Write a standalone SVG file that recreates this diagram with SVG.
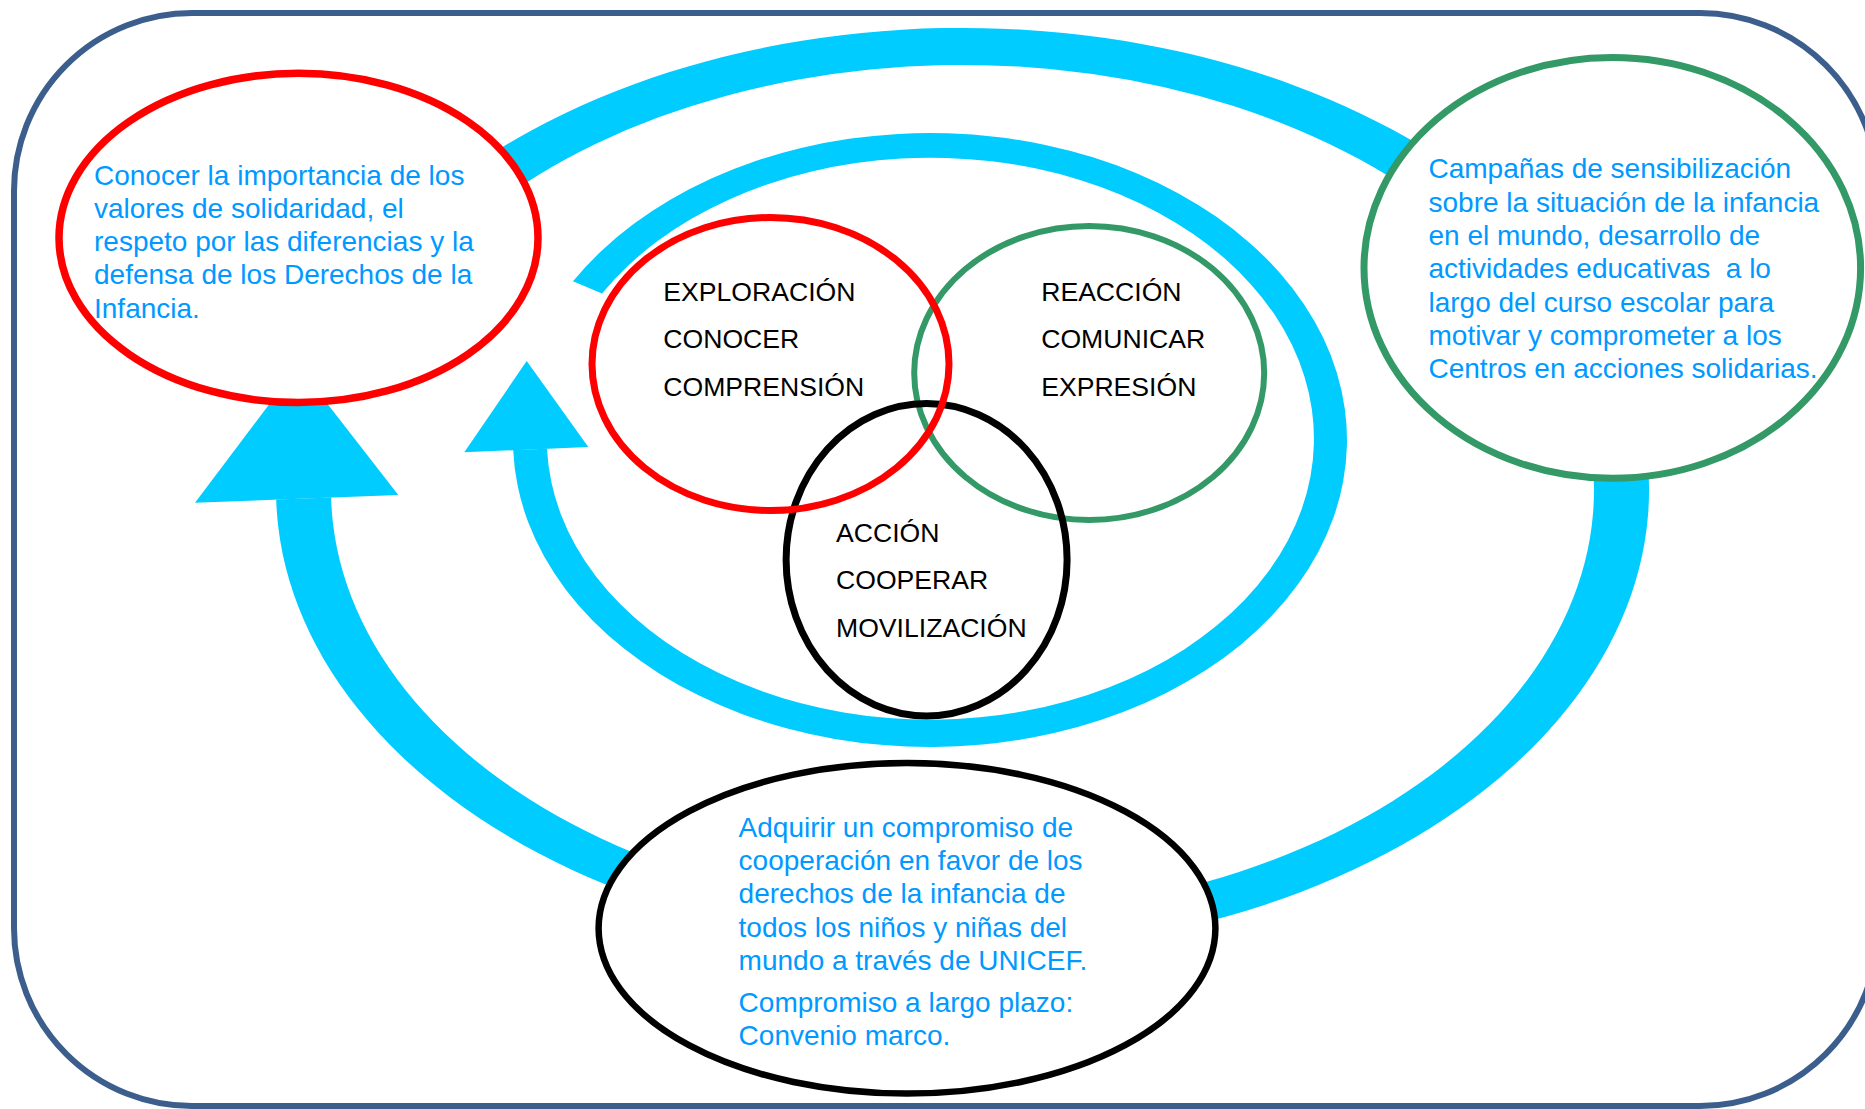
<svg xmlns="http://www.w3.org/2000/svg" width="1865" height="1109" viewBox="0 0 1865 1109">
<defs>
<style>
.frame{fill:#fff;stroke:#3B5E8C;stroke-width:6}
.flow{fill:#00CCFF}
.node{fill:#fff}
.venn{fill:none}
.red{stroke:#FF0000;stroke-width:7.5}
.green{stroke:#339966;stroke-width:7}
.black{stroke:#000;stroke-width:6.5}
.lbl{font-family:"Liberation Sans",Arial,sans-serif;font-size:28px;fill:#0099FF}
.vl{font-family:"Liberation Sans",Arial,sans-serif;font-size:26.6px;fill:#000}
</style>
</defs>
<rect width="1865" height="1109" fill="#fff"/>
<rect class="frame" x="14" y="13" width="1864" height="1093" rx="178"/>

<g id="connectors">
  <path class="flow" d="M276.2,499.6 A686.5,462 0 1 0 395,230 L440.4,250.8 A631.5,425 0 1 1 331.1,497.55 Z"/>
  <polygon class="flow" points="298,366 195,502.7 398.3,495"/>
  <path class="flow" d="M513.2,450 A417,307 0 1 0 573,281.3 L602,293.4 A383.6,281 0 1 1 547,448.8 Z"/>
  <polygon class="flow" points="526.7,361 464.3,452.3 588.3,447"/>
</g>

<g id="node-valores">
  <ellipse class="node red" cx="298.5" cy="237.9" rx="239.5" ry="164.6"/>
  <text class="lbl">
    <tspan x="94" y="184.5">Conocer la importancia de los</tspan>
    <tspan x="94" y="217.8">valores de solidaridad, el</tspan>
    <tspan x="94" y="251.1">respeto por las diferencias y la</tspan>
    <tspan x="94" y="284.4">defensa de los Derechos de la</tspan>
    <tspan x="94" y="317.7">Infancia.</tspan>
  </text>
</g>

<g id="node-campanas">
  <ellipse class="node green" cx="1612.3" cy="267.9" rx="248.3" ry="210.4"/>
  <text class="lbl">
    <tspan x="1428.5" y="178.3">Campañas de sensibilización</tspan>
    <tspan x="1428.5" y="211.6">sobre la situación de la infancia</tspan>
    <tspan x="1428.5" y="244.9">en el mundo, desarrollo de</tspan>
    <tspan x="1428.5" y="278.2">actividades educativas&#160; a lo</tspan>
    <tspan x="1428.5" y="311.5">largo del curso escolar para</tspan>
    <tspan x="1428.5" y="344.8">motivar y comprometer a los</tspan>
    <tspan x="1428.5" y="378.1">Centros en acciones solidarias.</tspan>
  </text>
</g>

<g id="node-compromiso">
  <ellipse class="node black" cx="907" cy="928.3" rx="308.4" ry="165.3"/>
  <text class="lbl">
    <tspan x="738.6" y="836.7">Adquirir un compromiso de</tspan>
    <tspan x="738.6" y="870">cooperación en favor de los</tspan>
    <tspan x="738.6" y="903.3">derechos de la infancia de</tspan>
    <tspan x="738.6" y="936.6">todos los niños y niñas del</tspan>
    <tspan x="738.6" y="969.9">mundo a través de UNICEF.</tspan>
    <tspan x="738.6" y="1011.7">Compromiso a largo plazo:</tspan>
    <tspan x="738.6" y="1045">Convenio marco.</tspan>
  </text>
</g>

<g id="venn-reaccion">
  <ellipse class="venn green" cx="1089.2" cy="373" rx="175" ry="147" style="stroke-width:6"/>
  <text class="vl">
    <tspan x="1041.2" y="300.7">REACCIÓN</tspan>
    <tspan x="1041.2" y="348.4">COMUNICAR</tspan>
    <tspan x="1041.2" y="396.1">EXPRESIÓN</tspan>
  </text>
</g>

<g id="venn-accion">
  <ellipse class="venn black" cx="926.6" cy="559.7" rx="140.5" ry="156.2" style="stroke-width:7"/>
  <text class="vl">
    <tspan x="836" y="541.7">ACCIÓN</tspan>
    <tspan x="836" y="589.3">COOPERAR</tspan>
    <tspan x="836" y="636.9">MOVILIZACIÓN</tspan>
  </text>
</g>

<g id="venn-exploracion">
  <ellipse class="venn red" cx="770.5" cy="364" rx="178.5" ry="146.5" style="stroke-width:7"/>
  <text class="vl">
    <tspan x="663.3" y="300.7">EXPLORACIÓN</tspan>
    <tspan x="663.3" y="348.4">CONOCER</tspan>
    <tspan x="663.3" y="396.1">COMPRENSIÓN</tspan>
  </text>
</g>
</svg>
